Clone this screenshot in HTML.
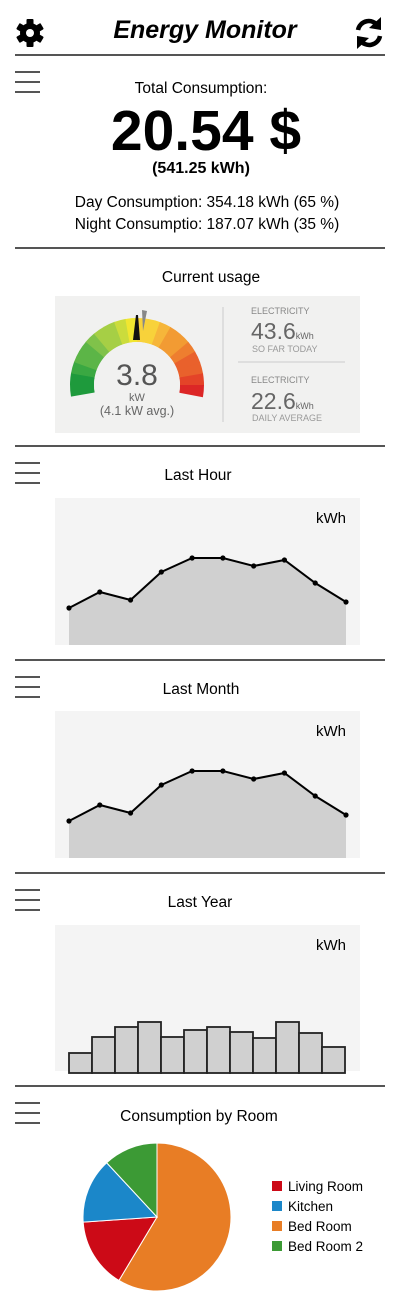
<!DOCTYPE html>
<html><head><meta charset="utf-8">
<style>
html,body{margin:0;padding:0;background:#fff;width:400px;height:1300px;overflow:hidden}
svg{display:block;font-family:"Liberation Sans",sans-serif}
</style></head>
<body>
<svg id="s" width="400" height="1300" viewBox="0 0 400 1300" xmlns="http://www.w3.org/2000/svg">
  <g transform="translate(30,33)">
    <circle r="10" fill="#000"/>
    <g fill="#000">
      <rect x="-3.5" y="-14" width="7" height="28" rx="1"/>
      <rect x="-3.5" y="-14" width="7" height="28" rx="1" transform="rotate(60)"/>
      <rect x="-3.5" y="-14" width="7" height="28" rx="1" transform="rotate(120)"/>
    </g>
    <circle r="4" fill="#fff"/>
  </g>
  <text x="205" y="38" text-anchor="middle" font-size="25" font-weight="bold" font-style="italic">Energy Monitor</text>
  <g fill="none" stroke="#000" stroke-width="4.5">
    <path d="M358 30 A11 11 0 0 1 378 26"/>
    <path d="M380 36 A11 11 0 0 1 360 40"/>
    <polygon points="381,17 381,30 369,28" fill="#000" stroke="none"/>
    <polygon points="357,49 357,36 369,38" fill="#000" stroke="none"/>
  </g>
  <g stroke="#555" stroke-width="2">
    <line x1="15" y1="55" x2="385" y2="55"/>
    <line x1="15" y1="248" x2="385" y2="248"/>
    <line x1="15" y1="446" x2="385" y2="446"/>
    <line x1="15" y1="660" x2="385" y2="660"/>
    <line x1="15" y1="873" x2="385" y2="873"/>
    <line x1="15" y1="1086" x2="385" y2="1086"/>
  </g>
  <g id="menus" stroke="#555" stroke-width="2"></g>

  <text x="201" y="93" text-anchor="middle" font-size="15.5">Total Consumption:</text>
  <text x="206" y="150" text-anchor="middle" font-size="57" font-weight="bold">20.54 $</text>
  <text x="201" y="173" text-anchor="middle" font-size="16" font-weight="bold">(541.25 kWh)</text>
  <text x="207" y="207" text-anchor="middle" font-size="15.5">Day Consumption: 354.18 kWh (65 %)</text>
  <text x="207" y="229" text-anchor="middle" font-size="15.5">Night Consumptio: 187.07 kWh (35 %)</text>

  <text x="211" y="282" text-anchor="middle" font-size="15.5">Current usage</text>
  <g>
    <rect x="55" y="296" width="305" height="137" fill="#f1f1f0"/>
    <g id="gauge"></g>
    <polygon points="133,340 140,340 138,315 136,315" fill="#111"/>
    <polygon points="143,331 147,311 142,310" fill="#888"/>
    <text x="137" y="385" text-anchor="middle" font-size="30" fill="#555">3.8</text>
    <text x="137" y="401" text-anchor="middle" font-size="11" fill="#666">kW</text>
    <text x="137" y="415" text-anchor="middle" font-size="12.5" fill="#666">(4.1 kW avg.)</text>
    <line x1="223" y1="307" x2="223" y2="422" stroke="#ccc"/>
    <line x1="238" y1="362" x2="345" y2="362" stroke="#ccc"/>
    <text x="251" y="314" font-size="9" fill="#888">ELECTRICITY</text>
    <text x="251" y="339" font-size="23" fill="#666">43.6<tspan font-size="9">kWh</tspan></text>
    <text x="252" y="352" font-size="9" fill="#999">SO FAR TODAY</text>
    <text x="251" y="383" font-size="9" fill="#888">ELECTRICITY</text>
    <text x="251" y="409" font-size="23" fill="#666">22.6<tspan font-size="9">kWh</tspan></text>
    <text x="252" y="421" font-size="9" fill="#999">DAILY AVERAGE</text>
  </g>

  <text x="198" y="480" text-anchor="middle" font-size="15.5">Last Hour</text>
  <g id="hourChart"></g>
  <text x="201" y="694" text-anchor="middle" font-size="15.5">Last Month</text>
  <g id="monthChart"></g>
  <text x="200" y="907" text-anchor="middle" font-size="15.5">Last Year</text>
  <g id="yearChart"></g>
  <text x="199" y="1121" text-anchor="middle" font-size="15.5">Consumption by Room</text>
  <g id="pie"></g>
  <g id="legend"></g>
</svg>
<script>
const hourValues = [37, 53, 45, 73, 87, 87, 79, 85, 62, 43];
const monthValues = [37, 53, 45, 73, 87, 87, 79, 85, 62, 43];
const yearValues = [18, 34, 44, 49, 34, 41, 44, 39, 33, 49, 38, 24];
const roomNames = ["Bed Room", "Living Room", "Kitchen", "Bed Room 2"];
const roomValues = [58.6, 15.3, 14.2, 11.9];
const roomColors = ["#e87d25", "#cc0a17", "#1b87c9", "#3c9a35"];
const legendOrder = ["Living Room", "Kitchen", "Bed Room", "Bed Room 2"];

const NS = "http://www.w3.org/2000/svg";
function mk(tag, attrs, parent) {
  const e = document.createElementNS(NS, tag);
  for (const k in attrs) e.setAttribute(k, attrs[k]);
  parent.appendChild(e); return e;
}

const menus = document.getElementById('menus');
[72, 463, 677, 890, 1103].forEach((y) => {
  const g = mk('g', {}, menus);
  
  
  for (let i = 0; i < 3; i++) mk('line', {x1: 15, x2: 40, y1: y + i * 10, y2: y + i * 10}, g);
});

const gauge = document.getElementById('gauge');
const gcx = 137, gcy = 385, rO = 67, rI = 43;
const gStart = -100, gEnd = 100, gSeg = 20;
const gCols = ["#1e9a3c","#3aa842","#5cb547","#80c24a","#a6cf45","#cbdc3c","#f1e630","#f8d23a","#f6b63a","#f29b33","#ee7e2f","#e9612c","#e44328","#dc2626"];
for (let i = 0; i < gSeg; i++) {
  const a0 = (gStart + (gEnd - gStart) * i / gSeg) * Math.PI / 180;
  const a1 = (gStart + (gEnd - gStart) * (i + 1.05) / gSeg) * Math.PI / 180;
  const p = (r, a) => (gcx + r * Math.sin(a)).toFixed(1) + ',' + (gcy - r * Math.cos(a)).toFixed(1);
  const c = gCols[Math.min(gCols.length - 1, Math.floor(i * gCols.length / gSeg))];
  mk('path', {d: `M${p(rO,a0)} A${rO} ${rO} 0 0 1 ${p(rO,a1)} L${p(rI,a1)} A${rI} ${rI} 0 0 0 ${p(rI,a0)} Z`, fill: c}, gauge);
}
mk('circle', {cx: gcx, cy: gcy, r: rI, fill: '#f1f1f0'}, gauge);

function lineChart(id, vals, top) {
  const g = document.getElementById(id);
  const x0 = 55, w = 305, h = 147, bottom = top + h;
  mk('rect', {x: x0, y: top, width: w, height: h, fill: '#f4f4f4'}, g);
  const xs = i => 69 + i * (346 - 69) / (vals.length - 1);
  const ys = v => bottom - v;
  let d = '';
  vals.forEach((v, i) => d += (i ? 'L' : 'M') + xs(i) + ' ' + ys(v));
  const area = mk('path', {d: d + `L${xs(vals.length-1)} ${bottom}L${xs(0)} ${bottom}Z`, fill: '#d0d0d0'}, g);
  
  
  const line = mk('path', {d, fill: 'none', stroke: '#000', 'stroke-width': 2}, g);
  
  
  vals.forEach((v, i) => {
    const c = mk('circle', {cx: xs(i), cy: ys(v), r: 2.6, fill: '#000'}, g);
    
    
  });
  const t = mk('text', {x: 346, y: top + 25, 'text-anchor': 'end', 'font-size': 15}, g);
  t.textContent = 'kWh';
  
  
}
lineChart('hourChart', hourValues, 498);
lineChart('monthChart', monthValues, 711);

(function () {
  const g = document.getElementById('yearChart');
  const top = 925, bottom = 1071;
  mk('rect', {x: 55, y: top, width: 305, height: bottom - top, fill: '#f4f4f4'}, g);
  const bw = (345 - 69) / yearValues.length;
  yearValues.forEach((v, i) => {
    const r = mk('rect', {x: 69 + i * bw, y: bottom - v, width: bw, height: v + 2, fill: '#d0d0d0', stroke: '#222', 'stroke-width': 1.8}, g);
    
    
  });
  const t = mk('text', {x: 346, y: top + 25, 'text-anchor': 'end', 'font-size': 15}, g);
  t.textContent = 'kWh';
  
  
})();

(function () {
  const g = document.getElementById('pie');
  const cx = 157, cy = 1217, r = 74;
  const total = roomValues.reduce((a, b) => a + b, 0);
  let acc = 0;
  roomValues.forEach((v, i) => {
    const a0 = acc / total * 2 * Math.PI; acc += v;
    const a1 = acc / total * 2 * Math.PI;
    const P = a => (cx + r * Math.sin(a)).toFixed(2) + ' ' + (cy - r * Math.cos(a)).toFixed(2);
    const s = mk('path', {d: `M${cx} ${cy}L${P(a0)}A${r} ${r} 0 ${a1 - a0 > Math.PI ? 1 : 0} 1 ${P(a1)}Z`, fill: roomColors[i], stroke: '#fff', 'stroke-width': 1}, g);
    
    
  });
  const lg = document.getElementById('legend');
  legendOrder.forEach((n, i) => {
    const y = 1187 + i * 20;
    const e = mk('g', {}, lg);
    
    
    mk('rect', {x: 272, y: y - 6, width: 10, height: 10, fill: roomColors[roomNames.indexOf(n)]}, e);
    const t = mk('text', {x: 288, y: y + 4, 'font-size': 13.5}, e);
    t.textContent = n;
  });
})();
</script>
</body></html>
